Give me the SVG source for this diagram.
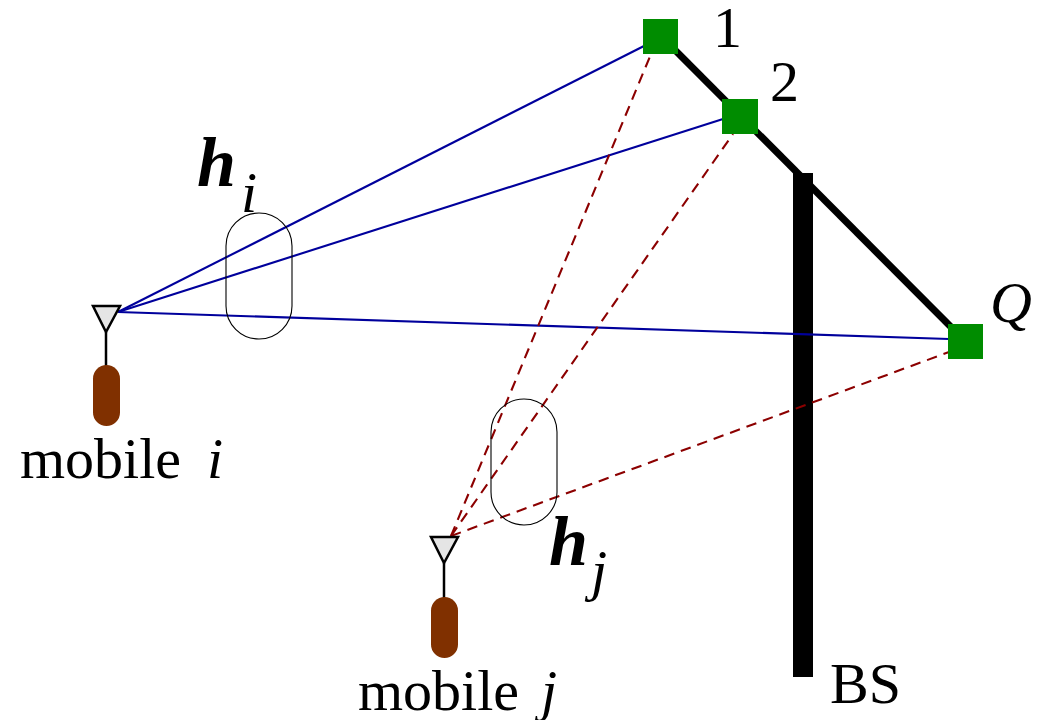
<svg xmlns="http://www.w3.org/2000/svg" width="1040" height="720" viewBox="0 0 1040 720">
<style>
text{font-family:"Liberation Serif","Times New Roman",serif;fill:#000}
.lab{font-size:58px}
.it{font-style:italic}
.h{font-size:70px;font-style:italic;font-weight:bold}
.sub{font-size:58px;font-style:italic}
.sq{fill:#008c00}
.ant{fill:#e5e5e5;stroke:#000;stroke-width:2.5}
.mast{stroke:#000;stroke-width:2.5;fill:none}
.body{fill:#803000}
.blue{stroke:#00009c;stroke-width:2.1;fill:none}
.red{stroke:#8c0000;stroke-width:2.1;stroke-dasharray:10.5 7;fill:none}
.oval{fill:none;stroke:#000;stroke-width:1.1}
</style>
<rect width="1040" height="720" fill="#fff"/>
<g id="backhaul">
<line x1="661" y1="36" x2="966" y2="342" stroke="#000" stroke-width="7"/>
<rect x="793" y="173" width="20" height="504" fill="#000"/>
</g>
<g id="connectors">
<line class="blue" x1="118" y1="312" x2="644" y2="46"/>
<line class="blue" x1="118" y1="312" x2="723" y2="119"/>
<line class="blue" x1="118" y1="312" x2="949" y2="339"/>
<path class="red" d="M451 536L651 54"/>
<path class="red" d="M451 536L733 134"/>
<path class="red" d="M451 536L949 352"/>
</g>
<g id="oval-i"><rect class="oval" x="226" y="213" width="66" height="126" rx="33"/></g>
<g id="oval-j"><rect class="oval" x="491" y="399" width="66" height="126" rx="33"/></g>
<g id="node-1"><rect class="sq" x="643" y="19" width="35" height="35"/><text class="lab" x="713" y="47">1</text></g>
<g id="node-2"><rect class="sq" x="722" y="99" width="36" height="35"/><text class="lab" x="770" y="101">2</text></g>
<g id="node-Q"><rect class="sq" x="948" y="324" width="35" height="35"/><text class="lab it" x="990" y="322">Q</text></g>
<g id="bs"><text class="lab" x="830" y="703">BS</text></g>
<g id="mobile-i">
<line class="mast" x1="106" y1="332" x2="106" y2="366"/>
<path class="ant" d="M93 306H120L106 332Z"/>
<rect class="body" x="93" y="365" width="27" height="61" rx="13.5"/>
<text class="lab" x="20" y="478">mobile</text><text class="lab it" x="207" y="478">i</text>
</g>
<g id="mobile-j">
<line class="mast" x1="444" y1="563" x2="444" y2="598"/>
<path class="ant" d="M431 537H458L444 563Z"/>
<rect class="body" x="431" y="597" width="27" height="61" rx="13.5"/>
<text class="lab" x="358" y="710">mobile</text><text class="lab it" x="541" y="710">j</text>
</g>
<g id="label-hi"><text class="h" x="197" y="186">h</text><text class="sub" x="241" y="212">i</text></g>
<g id="label-hj"><text class="h" x="549" y="565">h</text><text class="sub" x="591" y="590">j</text></g>
</svg>
